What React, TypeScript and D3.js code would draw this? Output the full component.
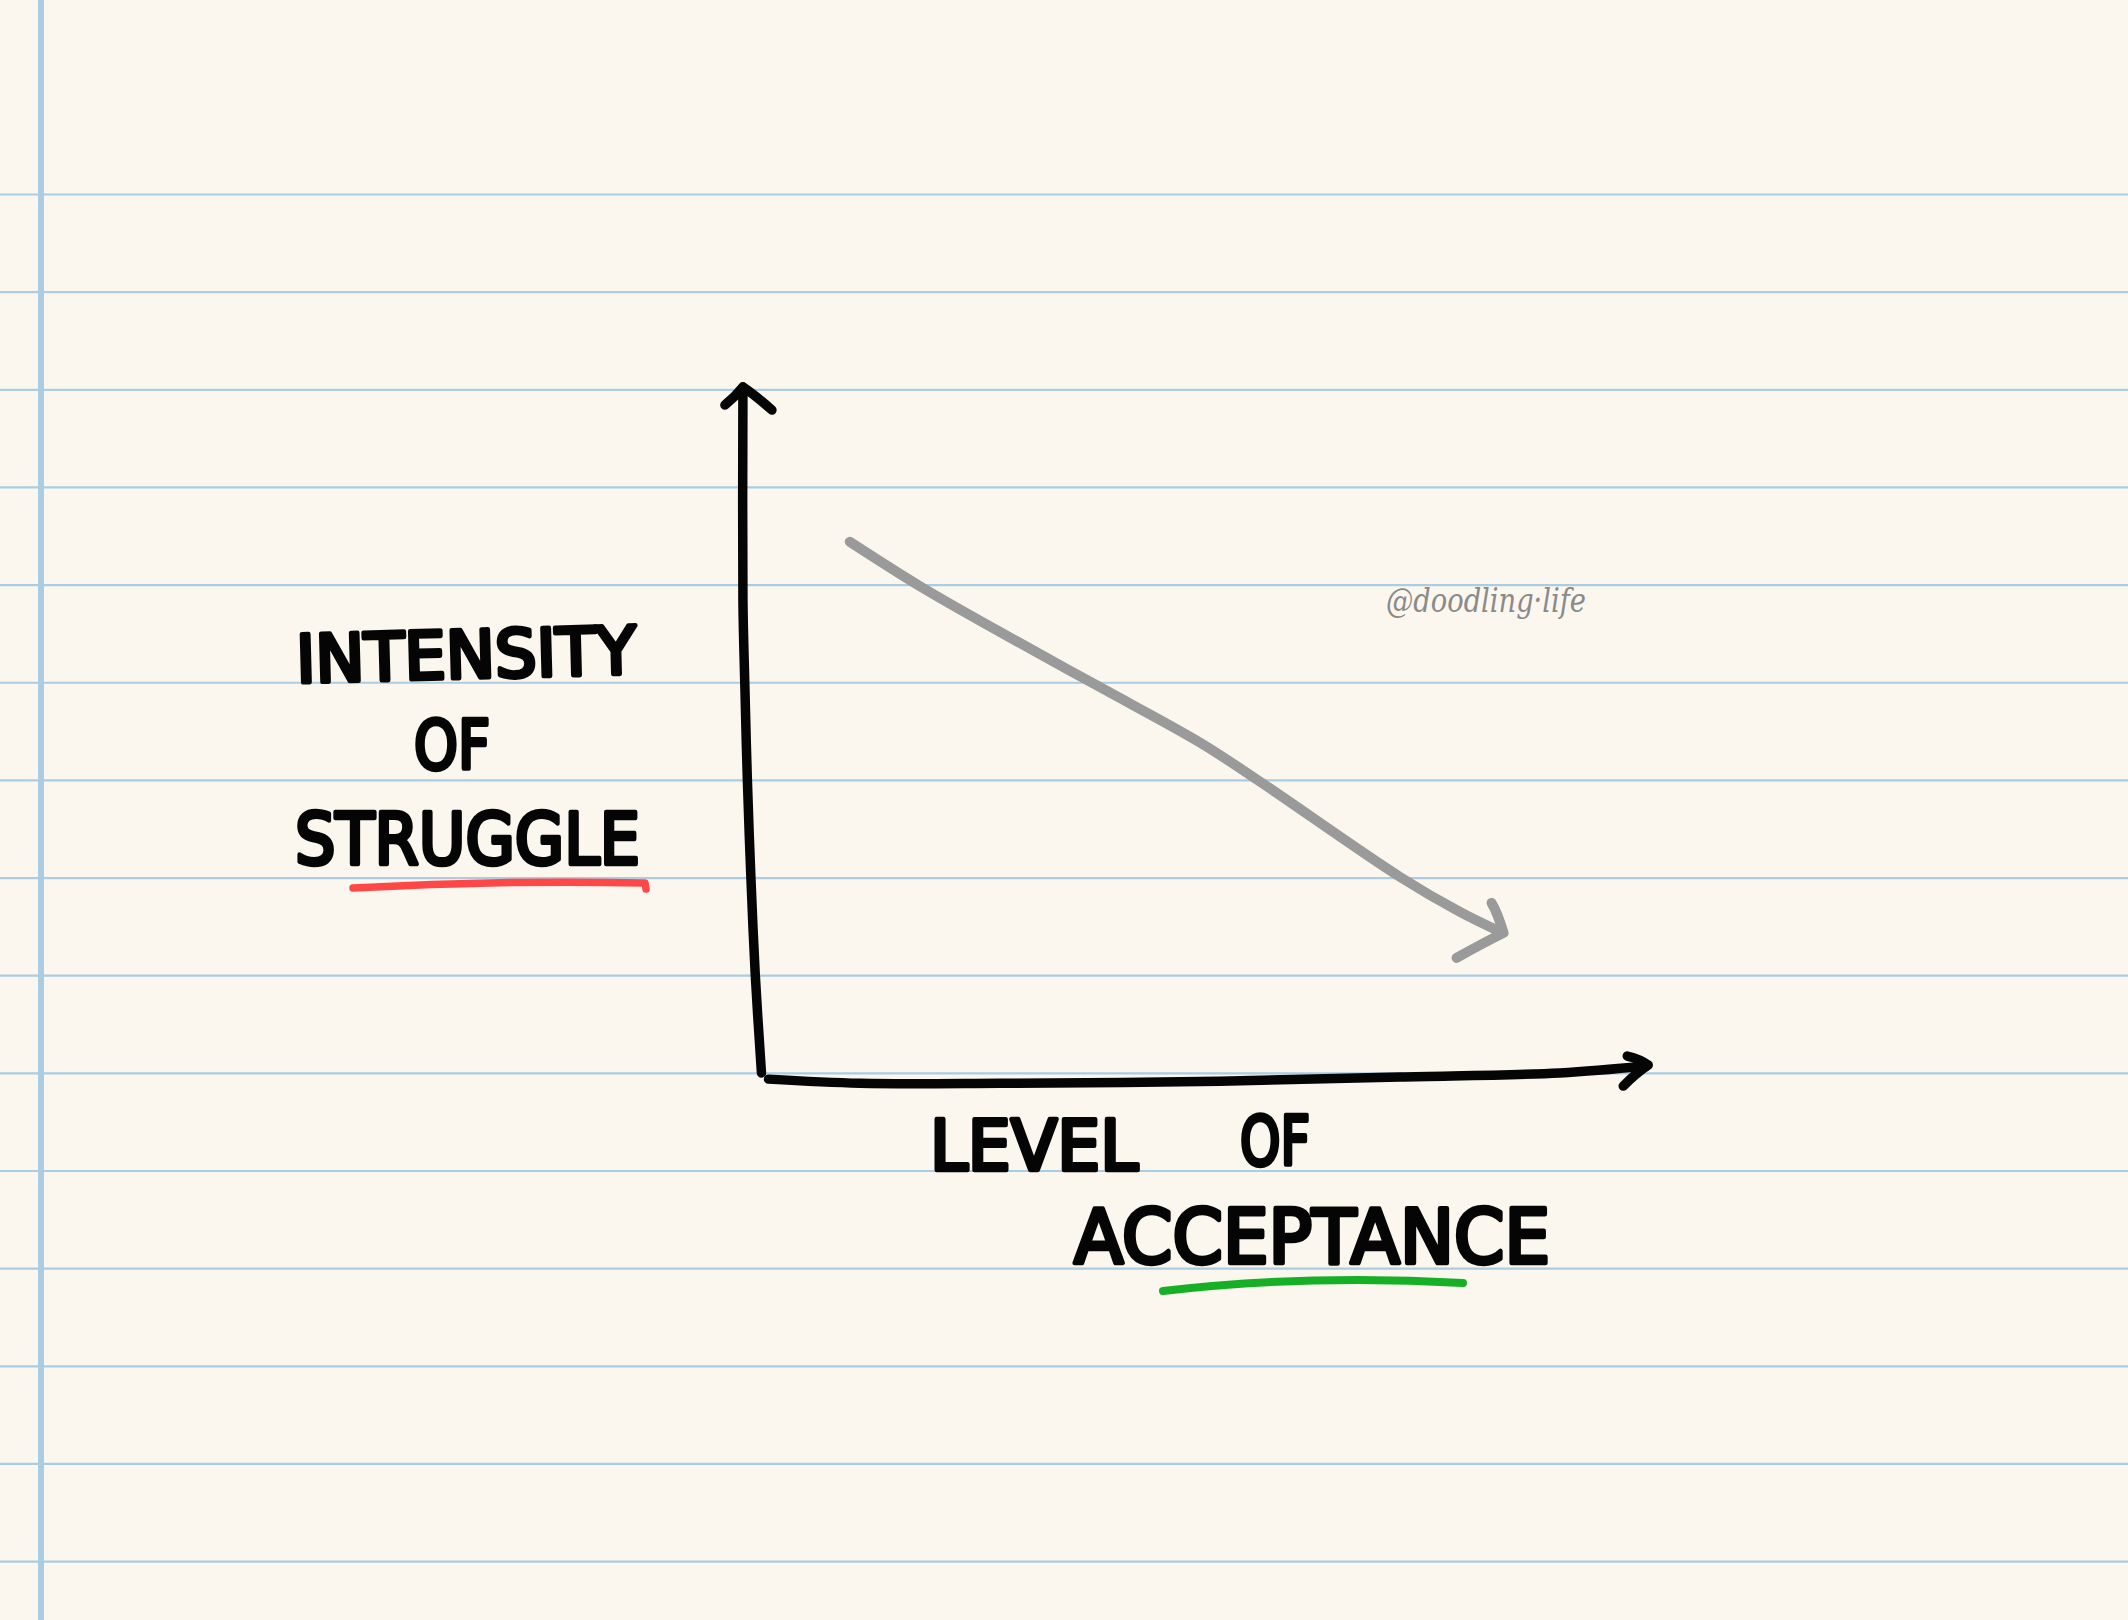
import React, { useEffect } from "react";
import * as d3 from "d3";

// ---- data ----
// acceptance (x) vs struggle (y) trend, in 0..100 units
const trendAcceptance = [9.6, 17.6, 26.6, 37.9, 49.3, 56.1, 71.9, 78.7, 83.3];
const trendStruggle = [77.5, 71.0, 64.4, 56.4, 48.3, 42.6, 28.8, 23.7, 20.8];

// hand-drawn axis wobble (data units)
const yAxisX = [-2.5, -2.5, -2.3, -2.0, -1.6, -1.1, -0.4];
const yAxisY = [100, 69, 57.5, 43, 28.8, 14.5, 0.3];
const xAxisX = [0.4, 10.8, 26.6, 51.5, 71.9, 90, 99.8];
const xAxisY = [-0.6, -1.2, -1.2, -0.9, -0.3, 0.3, 1.3];

const yTitleLines = ["INTENSITY", "OF", "STRUGGLE"];
const xTitleLines = ["LEVEL", "OF", "ACCEPTANCE"];
const watermark = "@doodling·life";

const W = 2128;
const H = 1620;
const ruleCount = 15;

export default function App() {
  useEffect(() => {
    document.body.style.margin = "0";
  }, []);

  const x = d3.scaleLinear().domain([0, 100]).range([765, 1648]);
  const y = d3.scaleLinear().domain([0, 100]).range([1075, 387]);
  const rule = d3.scaleLinear().domain([0, ruleCount - 1]).range([194.5, 1561.6]);

  const line = d3
    .line<[number, number]>()
    .x((d) => x(d[0]))
    .y((d) => y(d[1]))
    .curve(d3.curveCatmullRom.alpha(0.5));

  const trend = line(trendAcceptance.map((a, i) => [a, trendStruggle[i]] as [number, number]));
  const yAxisPath = line(yAxisX.map((a, i) => [a, yAxisY[i]] as [number, number]));
  const xAxisPath = line(xAxisX.map((a, i) => [a, xAxisY[i]] as [number, number]));

  // arrow heads
  const yTip = [x(yAxisX[0]), y(yAxisY[0])];
  const xTip = [x(xAxisX[xAxisX.length - 1]) + 2, y(xAxisY[xAxisY.length - 1]) - 1];
  const tTip = [x(trendAcceptance[trendAcceptance.length - 1]) + 3, y(trendStruggle[trendStruggle.length - 1]) + 1];

  const ink = "#050505";
  const marker = {
    fill: ink,
    stroke: ink,
    strokeWidth: 4.5,
    strokeLinejoin: "round" as const,
    strokeLinecap: "round" as const,
    fontFamily: "'DejaVu Sans', sans-serif",
    fontWeight: 400,
  };

  return (
    <svg width={W} height={H} viewBox={`0 0 ${W} ${H}`} style={{ display: "block" }}>
      <rect x={0} y={0} width={W} height={H} fill="#FBF7EE" />
      {d3.range(ruleCount).map((k) => (
        <line key={k} x1={0} x2={W} y1={rule(k)} y2={rule(k)} stroke="#AACDE3" strokeWidth={2.2} />
      ))}
      <line x1={41} x2={41} y1={0} y2={H} stroke="#AACDE3" strokeWidth={6} />

      {/* axes */}
      <g fill="none" stroke={ink} strokeWidth={9.5} strokeLinecap="round" strokeLinejoin="round">
        <path d={yAxisPath || ""} />
        <path d={`M${yTip[0] - 18},${yTip[1] + 18} Q${yTip[0] - 8},${yTip[1] + 10} ${yTip[0]},${yTip[1]} Q${yTip[0] + 12},${yTip[1] + 8} ${yTip[0] + 29},${yTip[1] + 23}`} />
        <path d={xAxisPath || ""} />
        <path d={`M${xTip[0] - 21},${xTip[1] - 9} Q${xTip[0] - 8},${xTip[1] - 6} ${xTip[0]},${xTip[1]} Q${xTip[0] - 12},${xTip[1] + 8} ${xTip[0] - 25},${xTip[1] + 21}`} />
      </g>

      {/* trend */}
      <g fill="none" stroke="#9A9A9A" strokeWidth={10} strokeLinecap="round" strokeLinejoin="round">
        <path d={trend || ""} />
        <path d={`M${tTip[0] - 12},${tTip[1] - 30} Q${tTip[0] - 6},${tTip[1] - 20} ${tTip[0]},${tTip[1]} Q${tTip[0] - 20},${tTip[1] + 10} ${tTip[0] - 47},${tTip[1] + 25}`} />
      </g>

      {/* y title */}
      <g style={marker as any}>
        <text x={296} y={678} fontSize={66} textLength={340} lengthAdjust="spacingAndGlyphs" transform="rotate(-1.5 466 655)">
          {yTitleLines[0]}
        </text>
        <text x={414} y={769} fontSize={68} textLength={76} lengthAdjust="spacingAndGlyphs">
          {yTitleLines[1]}
        </text>
        <text x={295} y={864} fontSize={72} textLength={345} lengthAdjust="spacingAndGlyphs">
          {yTitleLines[2]}
        </text>
      </g>
      <path d="M353,888 Q500,880 645,883 L646,889" fill="none" stroke="#FF4747" strokeWidth={7.5} strokeLinecap="round" strokeLinejoin="round" />

      {/* x title */}
      <g style={marker as any}>
        <text x={930} y={1170} fontSize={70} textLength={208} lengthAdjust="spacingAndGlyphs">
          {xTitleLines[0]}
        </text>
        <text x={1240} y={1165} fontSize={68} textLength={70} lengthAdjust="spacingAndGlyphs">
          {xTitleLines[1]}
        </text>
        <text x={1074} y={1263} fontSize={74} textLength={476} lengthAdjust="spacingAndGlyphs">
          {xTitleLines[2]}
        </text>
      </g>
      <path d="M1163,1291 Q1310,1274 1463,1283" fill="none" stroke="#17AF26" strokeWidth={8} strokeLinecap="round" />

      {/* watermark */}
      <text
        x={1386}
        y={612}
        fontSize={34}
        fill="#8A8A8A"
        fontFamily="'DejaVu Serif', serif"
        fontStyle="italic"
        textLength={200}
        lengthAdjust="spacingAndGlyphs"
      >
        {watermark}
      </text>
    </svg>
  );
}
